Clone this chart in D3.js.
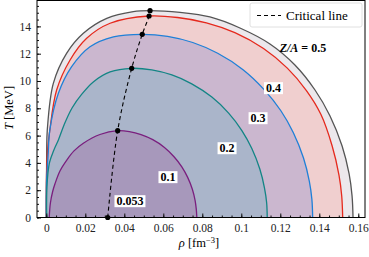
<!DOCTYPE html>
<html>
<head>
<meta charset="utf-8">
<script src="https://cdn.jsdelivr.net/npm/d3@7"></script>
<style>
  body { margin: 0; background: #fff; }
  svg text { font-family: "Liberation Serif", "Times New Roman", serif; }
</style>
</head>
<body>
<div id="chart"></div>
<script>
// spinodal boundaries, [rho (fm^-3), T (MeV)]
var curve05 = [[0,0],[0.0001,2.5],[0.0002,4.8],[0.0005,6.4],[0.0036,9.83],[0.0104,12.03],[0.019,13.5],[0.031,14.59],[0.0446,15.08],[0.0532,15.15],
    [0.0686,15.02],[0.0839,14.69],[0.0993,13.88],[0.1147,12.71],[0.1275,11.17],[0.1378,9.34],[0.1455,7.44],[0.1517,5.24],[0.1553,3.19],[0.1568,1.58],[0.1573,0]];
var curve04 = [[0,0],[0.0001,3],[0.0007,5],[0.0018,6.4],[0.0053,9.34],[0.0122,11.54],[0.0207,13.13],[0.0327,14.23],[0.0527,14.76],
    [0.0673,14.65],[0.0821,14.26],[0.0967,13.54],[0.1114,12.38],[0.1236,10.94],[0.1334,9.3],[0.1408,7.56],[0.1466,5.24],[0.1501,3.11],[0.1515,1.58],[0.152,0]];
var curve03 = [[0,0],[0.0001,2.5],[0.0009,4.5],[0.0018,6.4],[0.0062,9.1],[0.013,11.05],[0.0224,12.51],[0.0344,13.24],[0.0492,13.42],
    [0.0622,13.27],[0.0751,12.82],[0.0879,12.03],[0.1009,10.83],[0.1116,9.39],[0.1203,7.82],[0.1267,6.21],[0.1319,4.36],[0.1349,2.65],[0.1362,1.33],[0.1366,0]];
var curve02 = [[0.0002,0],[0.0003,2.23],[0.0016,4.0],[0.0039,4.95],[0.0062,5.68],[0.0091,6.78],[0.0132,8.02],[0.0183,9.05],[0.0241,9.93],[0.0327,10.66],[0.0438,10.93],
    [0.0541,10.81],[0.0644,10.44],[0.0746,9.79],[0.0849,8.82],[0.0935,7.65],[0.1003,6.37],[0.1054,5.05],[0.1095,3.55],[0.1119,2.16],[0.113,1.08],[0.1133,0]];
var curve01 = [[0.0015,0],[0.0021,1.06],[0.0032,1.87],[0.0045,2.49],[0.007,3.41],[0.0105,4.21],[0.0142,4.88],[0.019,5.44],[0.0275,6.08],[0.0366,6.36],
    [0.0426,6.29],[0.0486,6.07],[0.0546,5.7],[0.0606,5.13],[0.0655,4.45],[0.0695,3.71],[0.0725,2.94],[0.0749,2.07],[0.0763,1.26],[0.0769,0.63],[0.0772,0]];

var critRho = [0.0315, 0.0366, 0.0438, 0.0492, 0.0527, 0.0532];
var critT   = [0, 6.36, 10.93, 13.42, 14.76, 15.15];

var xTicks = [0, 0.02, 0.04, 0.06, 0.08, 0.1, 0.12, 0.14, 0.16];
var yTicks = [0, 2, 4, 6, 8, 10, 12, 14];

// Z/A labels and where they sit [rho, T]
var labelText = ["0.4", "0.3", "0.2", "0.1", "0.053"];
var labelPos  = [[0.1165, 9.49], [0.1086, 7.29], [0.0927, 5.09], [0.0624, 2.97], [0.0429, 1.21]];
var topLabelPos = [0.1316, 12.42];

var width = 369, height = 257;

var svg = d3.select("#chart").append("svg")
    .attr("width", width)
    .attr("height", height);

var x = d3.scaleLinear().domain([-0.00477, 0.16344]).range([37, 365]);
var y = d3.scaleLinear().domain([0, 15.86]).range([217.5, 1]);

var bands = [
    {pts: curve05, line: "#555555", fill: "#ece8ec"},
    {pts: curve04, line: "#e5291d", fill: "#f0cfcf"},
    {pts: curve03, line: "#1f80d8", fill: "#cbb7cf"},
    {pts: curve02, line: "#138585", fill: "#aab5ca"},
    {pts: curve01, line: "#7a1f7e", fill: "#a798bb"}
];

var line = d3.line()
    .x(function(d) { return x(d[0]); })
    .y(function(d) { return y(d[1]); })
    .curve(d3.curveCatmullRom.alpha(0.5));

var g = svg.append("g");

g.selectAll("path.fill")
    .data(bands)
    .enter().append("path")
    .attr("class", "fill")
    .attr("d", function(d) { return line(d.pts) + "Z"; })
    .attr("fill", function(d) { return d.fill; })
    .attr("stroke", "none");

g.selectAll("path.edge")
    .data(bands)
    .enter().append("path")
    .attr("class", "edge")
    .attr("d", function(d) { return line(d.pts); })
    .attr("fill", "none")
    .attr("stroke", function(d) { return d.line; })
    .attr("stroke-width", 1.3);

// critical line
var crit = critRho.map(function(r, i) { return [r, critT[i]]; });

g.append("path")
    .attr("d", line(crit))
    .attr("fill", "none")
    .attr("stroke", "#000")
    .attr("stroke-width", 1.1)
    .attr("stroke-dasharray", "4,3");

g.selectAll("circle.crit")
    .data(crit)
    .enter().append("circle")
    .attr("class", "crit")
    .attr("cx", function(d) { return x(d[0]); })
    .attr("cy", function(d) { return y(d[1]); })
    .attr("r", 2.6)
    .attr("fill", "#000");

// labels with white boxes
var lab = g.selectAll("g.lab")
    .data(labelText)
    .enter().append("g")
    .attr("class", "lab")
    .attr("transform", function(d, i) { return "translate(" + x(labelPos[i][0]) + "," + y(labelPos[i][1]) + ")"; });

lab.append("text")
    .attr("text-anchor", "middle")
    .attr("dy", "0.35em")
    .attr("font-size", 12)
    .attr("font-weight", "bold")
    .text(function(d) { return d; });

lab.each(function() {
    var t = d3.select(this).select("text");
    var b = t.node().getBBox();
    d3.select(this).insert("rect", "text")
        .attr("x", b.x - 2)
        .attr("y", b.y + 1)
        .attr("width", b.width + 4)
        .attr("height", b.height - 2)
        .attr("fill", "#fff");
});

var zlab = g.append("text")
    .attr("x", x(topLabelPos[0]))
    .attr("y", y(topLabelPos[1]))
    .attr("text-anchor", "middle")
    .attr("dy", "0.35em")
    .attr("font-size", 12)
    .attr("font-weight", "bold");
zlab.append("tspan").attr("font-style", "italic").text("Z/A");
zlab.append("tspan").text(" = 0.5");

// axes, ticks pointing inward
var xAxis = svg.append("g")
    .attr("transform", "translate(0,217.5)")
    .call(d3.axisBottom(x).tickValues(xTicks).tickSize(-4).tickPadding(6)
        .tickFormat(function(d) { return String(+d.toFixed(2)); }));
var xMinor = svg.append("g")
    .attr("transform", "translate(0,217.5)")
    .call(d3.axisBottom(x).tickValues(d3.range(0, 0.1631, 0.005)).tickSize(-2).tickFormat(""));

var yAxis = svg.append("g")
    .attr("transform", "translate(37,0)")
    .call(d3.axisLeft(y).tickValues(yTicks).tickSize(-4).tickPadding(6));
var yMinor = svg.append("g")
    .attr("transform", "translate(37,0)")
    .call(d3.axisLeft(y).tickValues(d3.range(0, 15.8, 0.5)).tickSize(-2).tickFormat(""));

[xAxis, xMinor, yAxis, yMinor].forEach(function(a) {
    a.select(".domain").remove();
    a.selectAll("text").attr("font-size", 11.5).attr("font-family", "Liberation Serif").attr("fill", "#222");
    a.selectAll("line").attr("stroke", "#111");
});

// frame
svg.append("rect")
    .attr("x", 37).attr("y", 0.5)
    .attr("width", 328).attr("height", 217)
    .attr("fill", "none")
    .attr("stroke", "#000")
    .attr("stroke-width", 1);

// legend
var leg = svg.append("g").attr("transform", "translate(250,3)");
leg.append("rect")
    .attr("width", 112).attr("height", 24).attr("rx", 2)
    .attr("fill", "#fff").attr("stroke", "#d8d8d8").attr("stroke-width", 0.8);
leg.append("line")
    .attr("x1", 7).attr("x2", 31).attr("y1", 12.5).attr("y2", 12.5)
    .attr("stroke", "#000").attr("stroke-width", 1.1).attr("stroke-dasharray", "4,3");
leg.append("text")
    .attr("x", 36).attr("y", 12.5).attr("dy", "0.35em")
    .attr("font-size", 13)
    .text("Critical line");

// axis titles
var xt = svg.append("text")
    .attr("x", 199).attr("y", 247)
    .attr("text-anchor", "middle")
    .attr("font-size", 12.5);
xt.append("tspan").attr("font-style", "italic").text("\u03c1");
xt.append("tspan").text(" [fm");
xt.append("tspan").attr("dy", -4).attr("font-size", 8.5).text("\u22123");
xt.append("tspan").attr("dy", 4).text("]");

var yt = svg.append("text")
    .attr("transform", "translate(13,108) rotate(-90)")
    .attr("text-anchor", "middle")
    .attr("font-size", 12.5);
yt.append("tspan").attr("font-style", "italic").text("T");
yt.append("tspan").text(" [MeV]");
</script>
</body>
</html>
